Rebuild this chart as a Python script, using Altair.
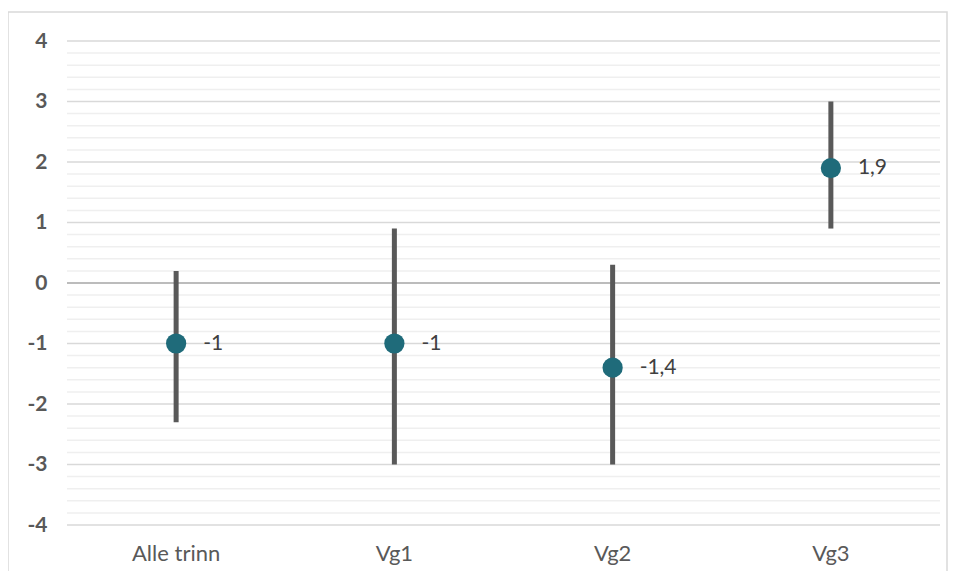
import altair as alt
import pandas as pd

categories = ["Alle trinn", "Vg1", "Vg2", "Vg3"]
estimates = [-1.0, -1.0, -1.4, 1.9]
lower = [-2.3, -3.0, -3.0, 0.9]
upper = [0.2, 0.9, 0.3, 3.0]
labels = ["-1", "-1", "-1,4", "1,9"]
y_ticks = [-4, -3, -2, -1, 0, 1, 2, 3, 4]
minor_grid = [round(-4 + 0.2 * i, 1) for i in range(41)]

df = pd.DataFrame({"cat": categories, "est": estimates, "lo": lower, "hi": upper, "lab": labels})
grid_minor = pd.DataFrame({"v": [v for v in minor_grid if abs(v - round(v)) > 1e-9]})
grid_major = pd.DataFrame({"v": [v for v in y_ticks if v != 0]})
zero = pd.DataFrame({"v": [0]})

W, H = 873, 484
FONT = "Lato"

yscale = alt.Scale(domain=[-4, 4], nice=False)
yaxis = alt.Axis(values=y_ticks, domain=False, ticks=False, grid=False,
                 labelFontSize=21, labelFontWeight="bold", labelColor="#595959",
                 labelPadding=20, labelFont=FONT, labelExpr="datum.value")
xaxis = alt.Axis(labelAngle=0, domain=False, ticks=False, labelPadding=18,
                 labelFontSize=22, labelColor="#595959", labelFont=FONT)

base = alt.Chart(df)
rules = base.mark_rule(color="#595959", strokeWidth=5).encode(
    x=alt.X("cat:N", sort=categories, title=None, axis=xaxis),
    y=alt.Y("lo:Q", scale=yscale, title=None, axis=yaxis),
    y2="hi:Q")

gmin = alt.Chart(grid_minor).mark_rule(color="#efefef", strokeWidth=1.5).encode(
    y=alt.Y("v:Q", scale=yscale, title=None, axis=yaxis))
gmaj = alt.Chart(grid_major).mark_rule(color="#d9d9d9", strokeWidth=1.5).encode(
    y=alt.Y("v:Q", scale=yscale, title=None, axis=yaxis))
gzero = alt.Chart(zero).mark_rule(color="#a6a6a6", strokeWidth=1.5).encode(
    y=alt.Y("v:Q", scale=yscale, title=None, axis=yaxis))

border = alt.Chart(zero).mark_rect(fill=None, stroke="#d9d9d9", strokeWidth=1.5).encode(
    x=alt.value(-59), x2=alt.value(W + 7), y=alt.value(-29), y2=alt.value(H + 80))

xenc = alt.X("cat:N", sort=categories, title=None, axis=xaxis)
pts = base.mark_circle(size=410, color="#1f6b7a", opacity=1).encode(
    x=xenc, y=alt.Y("est:Q", scale=yscale, title=None, axis=yaxis))
txt = base.mark_text(align="left", baseline="middle", dx=27, fontSize=21,
                     color="#404040", font=FONT).encode(
    x=xenc, y=alt.Y("est:Q", scale=yscale, title=None, axis=yaxis), text="lab:N")

chart = alt.layer(gmin, gmaj, gzero, rules, pts, txt, border).properties(
    width=W, height=H,
    background="white",
    autosize=alt.AutoSizeParams(type="none"),
    padding={"left": 59, "top": 33, "right": 8, "bottom": 46},
).configure_view(stroke=None, strokeWidth=0)

chart.save("out.html", embed_options={"renderer": "svg", "actions": False})
